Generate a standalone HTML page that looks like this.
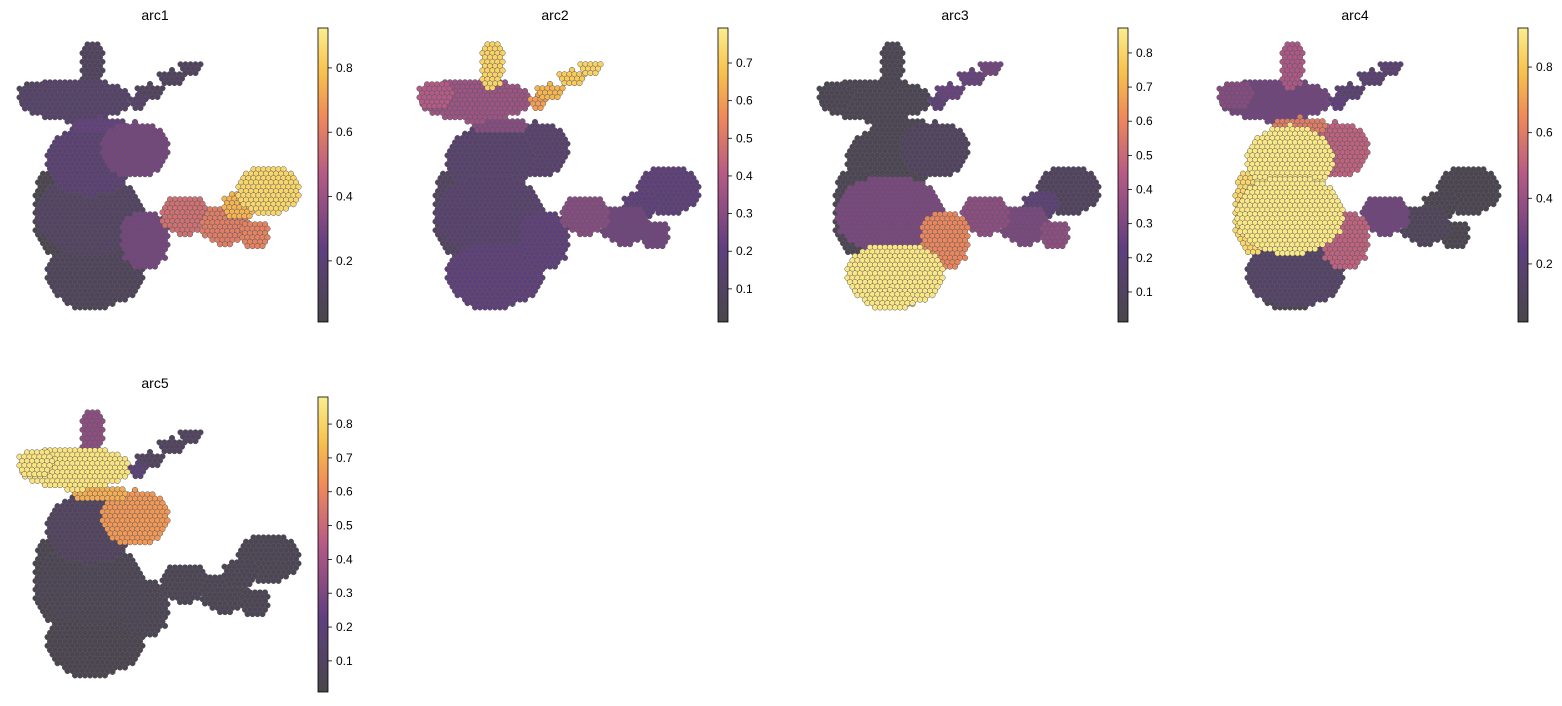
<!DOCTYPE html>
<html><head><meta charset="utf-8"><style>
body{margin:0;background:#fff;font-family:"Liberation Sans",sans-serif;}
svg text{font-family:"Liberation Sans",sans-serif;}
</style></head><body>
<svg id="fig" width="1562" height="701" xmlns="http://www.w3.org/2000/svg">
<defs>
<linearGradient id="cmap" x1="0" y1="1" x2="0" y2="0">
<stop offset="0" stop-color="#48464b"/><stop offset="0.25" stop-color="#5f3f7e"/>
<stop offset="0.5" stop-color="#b45a86"/><stop offset="0.7" stop-color="#ef8a5a"/>
<stop offset="0.85" stop-color="#f7c24f"/><stop offset="1" stop-color="#fbee8f"/>
</linearGradient></defs>
</svg>
<script>
// embedding clusters (data coordinates in panel space)
const clusterX=[75,35,92,150,172,190,135,90,90,55,95,145,185,225,268,255,90,138,240,100];
const clusterY=[100,95,65,92,78,68,150,160,215,210,275,240,215,225,190,235,300,102,205,125];
const clusterRX=[55,18,12,15,15,12,35,45,55,22,50,25,25,25,32,15,25,10,18,30];
const clusterRY=[22,15,25,8,8,8,28,35,40,45,32,30,20,20,25,15,10,7,15,8];
const arc1Values=[0.15,0.1,0.1,0.1,0.1,0.1,0.3,0.2,0.12,0.03,0.08,0.3,0.55,0.6,0.85,0.62,0.05,0.15,0.75,0.25];
const arc2Values=[0.35,0.4,0.72,0.65,0.7,0.72,0.15,0.15,0.15,0.1,0.2,0.2,0.3,0.25,0.2,0.25,0.2,0.6,0.2,0.3];
const arc3Values=[0.05,0.05,0.05,0.25,0.25,0.28,0.1,0.05,0.3,0.05,0.85,0.6,0.35,0.3,0.1,0.35,0.85,0.2,0.2,0.05];
const arc4Values=[0.3,0.35,0.45,0.2,0.2,0.2,0.5,0.9,0.9,0.85,0.15,0.5,0.3,0.1,0.05,0.05,0.05,0.25,0.05,0.6];
const arc5Values=[0.85,0.85,0.35,0.1,0.1,0.1,0.65,0.1,0.05,0.03,0.03,0.05,0.05,0.05,0.05,0.05,0.03,0.2,0.05,0.7];
const panelTitles=["arc1","arc2","arc3","arc4","arc5"];
const cbarMin=[0.01,0.012,0.012,0.023,0.008];
const cbarMax=[0.924,0.793,0.873,0.919,0.88];
const cbarTicks=[[0.2,0.4,0.6,0.8],[0.1,0.2,0.3,0.4,0.5,0.6,0.7],[0.1,0.2,0.3,0.4,0.5,0.6,0.7,0.8],[0.2,0.4,0.6,0.8],[0.1,0.2,0.3,0.4,0.5,0.6,0.7,0.8]];
const allValues=[arc1Values,arc2Values,arc3Values,arc4Values,arc5Values];

const NS="http://www.w3.org/2000/svg";
const svg=document.getElementById('fig');
const offsets=[[0,0],[400,0],[800,0],[1200,0],[0,368]];
const stops=[[0,[72,70,75]],[0.25,[95,63,126]],[0.5,[180,90,134]],[0.7,[239,138,90]],[0.85,[247,194,79]],[1,[251,238,143]]];
function cmap(t){t=Math.max(0,Math.min(1,t));for(let i=1;i<stops.length;i++){if(t<=stops[i][0]){const a=stops[i-1],b=stops[i];const f=(t-a[0])/(b[0]-a[0]);const c=a[1].map((v,k)=>Math.round(v+(b[1][k]-v)*f));return `rgb(${c[0]},${c[1]},${c[2]})`;}}return 'rgb(251,238,143)';}
function el(tag,attrs,parent){const e=document.createElementNS(NS,tag);for(const k in attrs)e.setAttribute(k,attrs[k]);parent.appendChild(e);return e;}

for(let p=0;p<5;p++){
  const [ox,oy]=offsets[p];
  const g=el('g',{},svg);
  
  
  const sx=x=>ox+x, sy=y=>oy+y;
  const vmin=cbarMin[p],vmax=cbarMax[p];
  const order=clusterX.map((_,i)=>i).sort((a,b)=>allValues[p][a]-allValues[p][b]);
  for(const i of order){
    const cg=el('g',{},g);
    
    
    const col=cmap((allValues[p][i]-vmin)/(vmax-vmin));
    const step=5;
    for(let yy=-clusterRY[i];yy<=clusterRY[i];yy+=step*0.87){
      const row=Math.round(yy/(step*0.87));
      for(let xx=-clusterRX[i]+(row%2?step/2:0);xx<=clusterRX[i];xx+=step){
        if((xx*xx)/(clusterRX[i]*clusterRX[i])+(yy*yy)/(clusterRY[i]*clusterRY[i])>1)continue;
        el('circle',{cx:sx(clusterX[i]+xx).toFixed(1),cy:sy(clusterY[i]+yy).toFixed(1),r:2.8,fill:col,stroke:'#5a5a5a','stroke-width':0.5},cg);
      }
    }
  }
  const t=el('text',{x:ox+155,y:oy+20,'text-anchor':'middle','font-size':14,fill:'#000'},g);
  t.textContent=panelTitles[p];
  
  
  const cx=ox+318,top=oy+(p===4?29:28),bot=oy+(p===4?324:322);
  const cb=el('rect',{x:cx,y:top,width:10,height:bot-top,fill:'url(#cmap)',stroke:'#000','stroke-width':0.8},g);
  
  
  const cy=v=>bot-(v-vmin)/(vmax-vmin)*(bot-top);
  for(const v of cbarTicks[p]){
    el('line',{x1:cx+10,x2:cx+14,y1:cy(v),y2:cy(v),stroke:'#000','stroke-width':0.8},g);
    const tl=el('text',{x:cx+18,y:cy(v)+4,'font-size':12,fill:'#000'},g);
    tl.textContent=v.toFixed(1);
    
    
  }
}
</script>
</body></html>
